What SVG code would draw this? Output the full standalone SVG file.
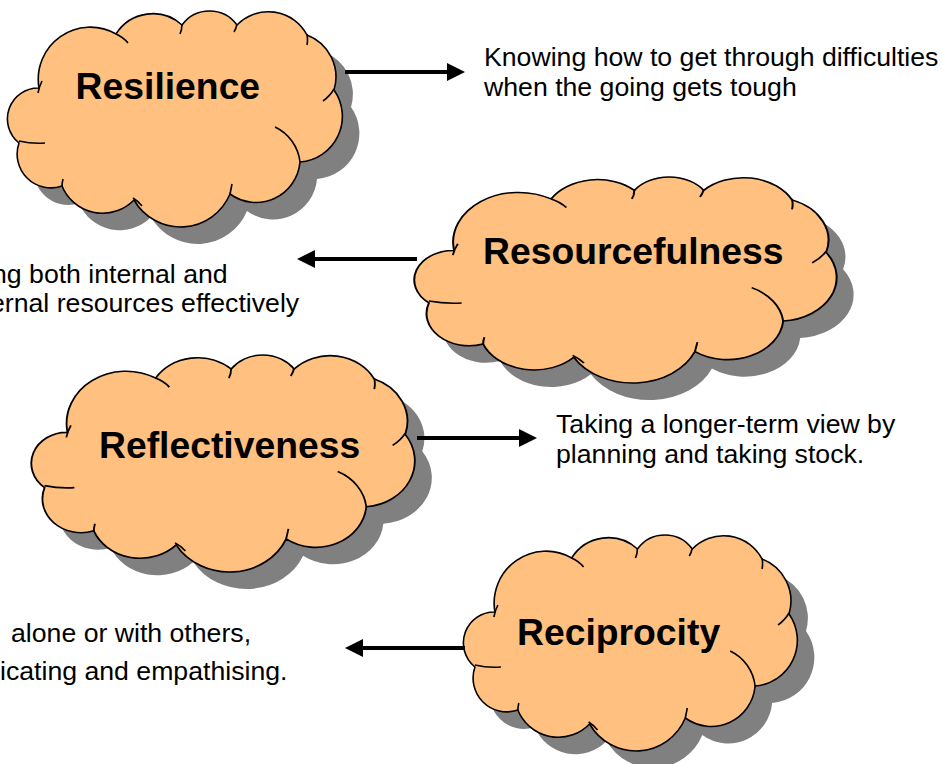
<svg xmlns="http://www.w3.org/2000/svg" xmlns:xlink="http://www.w3.org/1999/xlink" width="942" height="764" viewBox="0 0 942 764">
<style>
.shadow{fill:#808080;stroke:none}
.cloud{fill:#FFC080;stroke:#000;stroke-width:1.6;vector-effect:non-scaling-stroke}
.tick{fill:none;stroke:#000;stroke-width:1.6;vector-effect:non-scaling-stroke}
.title{font-family:"Liberation Sans",Arial,sans-serif;font-weight:bold;font-size:37.3px;fill:#000}
.desc{font-family:"Liberation Sans",Arial,sans-serif;font-size:26.67px;fill:#000}
.conn{stroke:#000;stroke-width:4;fill:none}
</style>
<defs>
<path id="cloudOutline" d="M39,88 A52,52 0 0 1 116,34 A43.5,43.5 0 0 1 182,25 A34,34 0 0 1 237,25 A43.7,43.7 0 0 1 307,35 A45,45 0 0 1 334,90 A45.75,45.75 0 0 1 300,162 A44.2,44.2 0 0 1 230,194 A53.6,53.6 0 0 1 134,200 A43.8,43.8 0 0 1 62,186 A33.8,33.8 0 0 1 19,143 A30.9,30.9 0 0 1 39,88 Z"/>
<path id="cloudTicks" d="M38,93 Q39,87 42,81 M116,34 Q123,37 128,43 M182,24 Q182,30 180,34 M237,24 Q236,29 234,32 M307,34 Q308,40 307,45 M334,89 Q330,96 323,101 M275,127 A44,44 0 0 1 300,162 M230,194 Q231,189 232,184 M133,198 Q138,201 142,206 M62,187 Q62,183 63,179 M19,141 Q32,144 45,143"/>
<marker id="ah" markerWidth="18" markerHeight="18" refX="0" refY="9" orient="auto" markerUnits="userSpaceOnUse">
<path d="M0,0 L18,9 L0,18 Z" fill="#000"/>
</marker>
</defs>

<g id="node-resilience">
<g>
<use xlink:href="#cloudOutline" class="shadow" transform="translate(17,17)"/>
<use xlink:href="#cloudOutline" class="cloud"/>
<use xlink:href="#cloudTicks" class="tick"/>
</g>
<text class="title" x="75.6" y="98.5">Resilience</text>
</g>

<g id="node-resourcefulness">
<g transform="translate(404.9,166.5) scale(1.261,0.954)">
<use xlink:href="#cloudOutline" class="shadow" transform="translate(13.48,17.82)"/>
<use xlink:href="#cloudOutline" class="cloud"/>
<use xlink:href="#cloudTicks" class="tick"/>
</g>
<text class="title" x="483" y="264">Resourcefulness</text>
</g>

<g id="node-reflectiveness">
<g transform="translate(22.8,343.9) scale(1.145,1.005)">
<use xlink:href="#cloudOutline" class="shadow" transform="translate(14.85,16.92)"/>
<use xlink:href="#cloudOutline" class="cloud"/>
<use xlink:href="#cloudTicks" class="tick"/>
</g>
<text class="title" x="99" y="458">Reflectiveness</text>
</g>

<g id="node-reciprocity">
<g transform="translate(456,524) scale(0.997,1)">
<use xlink:href="#cloudOutline" class="shadow" transform="translate(17.05,17)"/>
<use xlink:href="#cloudOutline" class="cloud"/>
<use xlink:href="#cloudTicks" class="tick"/>
</g>
<text class="title" x="517" y="645">Reciprocity</text>
</g>

<g id="desc-resilience">
<text class="desc" x="484" y="66">Knowing how to get through difficulties</text>
<text class="desc" x="484" y="96">when the going gets tough</text>
</g>
<g id="desc-resourcefulness">
<text class="desc" x="-8" y="283">ng both internal and</text>
<text class="desc" x="-10" y="312">ernal resources effectively</text>
</g>
<g id="desc-reflectiveness">
<text class="desc" x="556" y="433">Taking a longer-term view by</text>
<text class="desc" x="556" y="463">planning and taking stock.</text>
</g>
<g id="desc-reciprocity">
<text class="desc" x="11" y="642">alone or with others,</text>
<text class="desc" x="0" y="680">icating and empathising.</text>
</g>

<g id="connectors">
<line class="conn" x1="345" y1="72" x2="447" y2="72" marker-end="url(#ah)"/>
<line class="conn" x1="417" y1="259" x2="315" y2="259" marker-end="url(#ah)"/>
<line class="conn" x1="417" y1="438" x2="519" y2="438" marker-end="url(#ah)"/>
<line class="conn" x1="465" y1="648" x2="363" y2="648" marker-end="url(#ah)"/>
</g>
</svg>
